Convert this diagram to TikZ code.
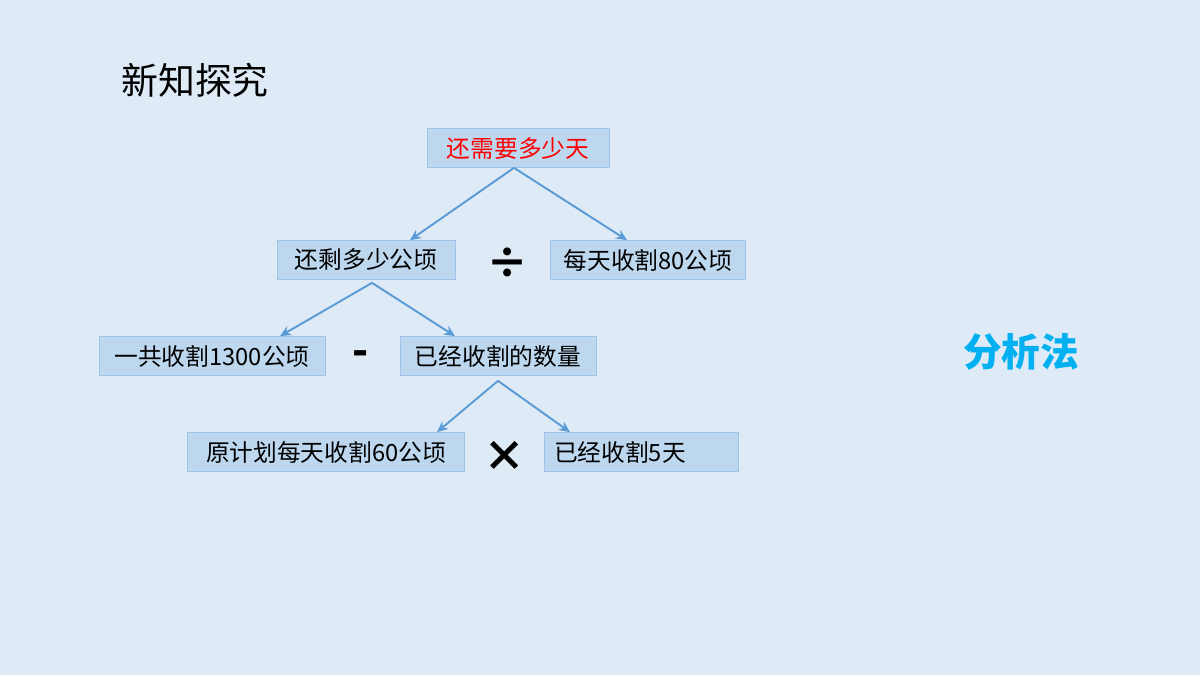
\documentclass[tikz,border=0pt]{standalone}
\usepackage{fontspec}
\setmainfont{Noto Sans CJK SC}
\usepackage{tikz}
\usetikzlibrary{arrows.meta}
\usetikzlibrary{positioning}
\definecolor{mybg}{HTML}{DEEBF7}
\definecolor{myfill}{HTML}{BDD7EE}
\definecolor{myedge}{HTML}{9DC3E6}
\definecolor{myline}{HTML}{5B9BD5}
\definecolor{mycyan}{HTML}{00B0F0}
\tikzset{every text node part/.style={align=center}}
\tikzstyle{block} = [draw=myedge, fill=myfill, inner xsep=10*0.02cm, inner ysep=0pt, minimum height=39*0.02cm, font=\fontsize{13.5}{16}\selectfont]
\tikzstyle{ln} = [draw=myline, line width=1.1pt, -{Stealth[length=2.2mm,width=2mm]}]
\tikzstyle{op} = [font=\fontsize{24}{28}\selectfont\bfseries]

\begin{document}
\begin{tikzpicture}[x=0.02cm, y=-0.02cm]
  \fill[mybg] (0,0) rectangle (1200,675);
  \useasboundingbox (0,0) rectangle (1200,675);
  \node[font=\fontsize{21}{25}\selectfont] (title) at (195,80) {新知探究};
  \node[font=\fontsize{22}{26}\selectfont\bfseries, text=mycyan] (method) at (1021,352) {分析法};
  % tree
  \node[block, text width=162*0.02cm, text=red] (days) at (518,148) {还需要多少天};
  \node[block, text width=158*0.02cm] (rest) at (366,260) {还剩多少公顷};
  \node[block, text width=175*0.02cm] (perday) at (648,260) {每天收割80公顷};
  \node[op] (div) at (508,263) {÷};
  \node[block, text width=206*0.02cm] (total) at (212,356) {一共收割1300公顷};
  \node[block, text width=176*0.02cm] (done) at (498,356) {已经收割的数量};
  \node[op] (minus) at (361,358) {-};
  \node[block, text width=257*0.02cm] (plan) at (326,452) {原计划每天收割60公顷};
  \node[block, text width=174*0.02cm, every text node part/.style={align=left}] (five) at (641,452) {已经收割5天};
  \node[op] (times) at (505,456) {×};
  \path[ln] ([xshift=-4*0.02cm]days.south) -- ([xshift=44*0.02cm]rest.north);
  \path[ln] ([xshift=-4*0.02cm]days.south) -- ([xshift=-21*0.02cm]perday.north);
  \path[ln] ([xshift=6*0.02cm, yshift=-3*0.02cm]rest.south) -- ([xshift=68*0.02cm]total.north);
  \path[ln] ([xshift=6*0.02cm, yshift=-3*0.02cm]rest.south) -- ([xshift=-43*0.02cm]done.north);
  \path[ln] ([yshift=-5*0.02cm]done.south) -- ([xshift=111*0.02cm]plan.north);
  \path[ln] ([yshift=-5*0.02cm]done.south) -- ([xshift=-71*0.02cm]five.north);
\end{tikzpicture}
\end{document}
